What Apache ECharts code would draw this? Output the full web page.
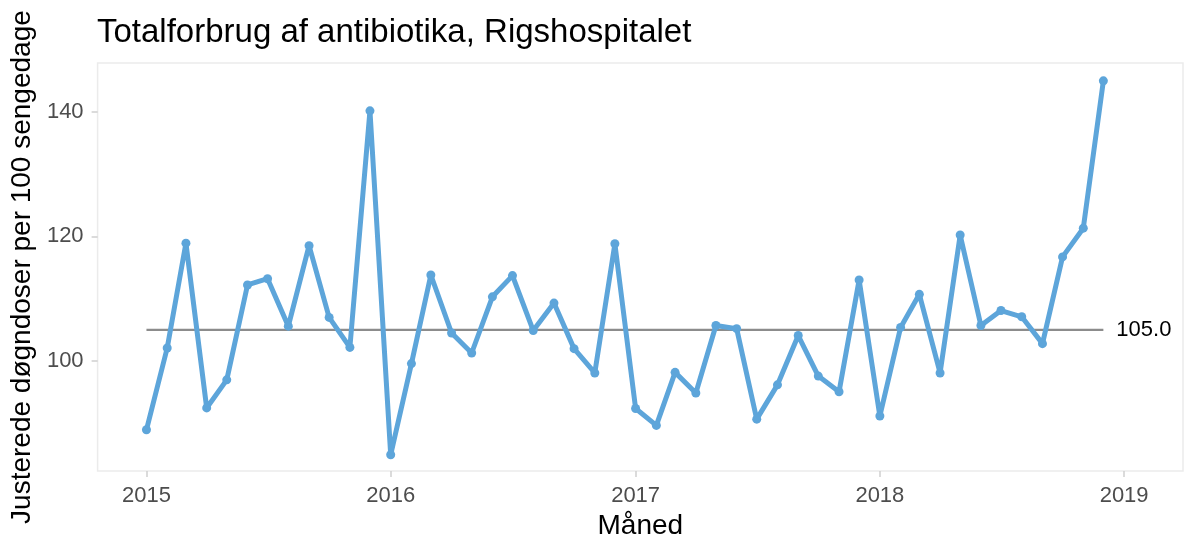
<!DOCTYPE html>
<html>
<head>
<meta charset="utf-8">
<script src="https://cdn.jsdelivr.net/npm/echarts@6/dist/echarts.min.js"></script>
<style>
  html, body { margin: 0; padding: 0; background: #fff; }
  #chart { width: 1186px; height: 545px; }
</style>
</head>
<body>
<div id="chart"></div>
<script>
const months = [
  '2015-01', '2015-02', '2015-03', '2015-04', '2015-05', '2015-06', '2015-07', '2015-08', '2015-09', '2015-10', '2015-11', '2015-12',
  '2016-01', '2016-02', '2016-03', '2016-04', '2016-05', '2016-06', '2016-07', '2016-08', '2016-09', '2016-10', '2016-11', '2016-12',
  '2017-01', '2017-02', '2017-03', '2017-04', '2017-05', '2017-06', '2017-07', '2017-08', '2017-09', '2017-10', '2017-11', '2017-12',
  '2018-01', '2018-02', '2018-03', '2018-04', '2018-05', '2018-06', '2018-07', '2018-08', '2018-09', '2018-10', '2018-11', '2018-12'
]
const values = [
  89.0, 102.1, 118.9, 92.5, 97.0, 112.2, 113.2, 105.6, 118.5, 107.0, 102.2, 140.1,
  85.0, 99.6, 113.8, 104.5, 101.3, 110.3, 113.7, 104.9, 109.3, 102.0, 98.1, 118.8,
  92.4, 89.7, 98.2, 94.9, 105.7, 105.2, 90.7, 96.2, 104.1, 97.6, 95.1, 113.0,
  91.2, 105.4, 110.7, 98.1, 120.2, 105.7, 108.1, 107.1, 102.8, 116.7, 121.3, 144.9
]
const centerLine = 105.0
const yTicks = [100, 120, 140]
const xTickYears = [2015, 2016, 2017, 2018, 2019]

const toTime = s => Date.UTC(+s.slice(0, 4), +s.slice(5, 7) - 1, 1)
const DAY = 86400000
const xTicks = xTickYears.map(y => Date.UTC(y, 0, 1))

const font = '"Liberation Sans", Arial, Helvetica, sans-serif'
const tickColor = '#cfcfcf'

const chart = echarts.init(document.getElementById('chart'))
chart.setOption({
  animation: false,
  textStyle: { fontFamily: font },
  title: {
    text: 'Totalforbrug af antibiotika, Rigshospitalet',
    left: 92,
    top: 11,
    textStyle: { fontFamily: font, fontSize: 33, fontWeight: 'normal', color: '#000' }
  },
  grid: { left: 96, right: 3, top: 63, bottom: 72, show: true, borderColor: '#ebebeb', borderWidth: 1.5, backgroundColor: '#fff' },
  xAxis: {
    type: 'value',
    min: Date.UTC(2015, 0, 1) - 73 * DAY,
    max: Date.UTC(2019, 0, 1) + 88 * DAY,
    name: 'Måned',
    nameLocation: 'middle',
    nameGap: 40,
    nameTextStyle: { fontFamily: font, fontSize: 28, color: '#000' },
    axisLine: { show: false },
    splitLine: { show: false },
    axisTick: { show: true, customValues: xTicks, length: 6, lineStyle: { color: tickColor, width: 1.5 } },
    axisLabel: {
      customValues: xTicks,
      fontSize: 22,
      color: '#4d4d4d',
      margin: 14,
      formatter: v => String(new Date(v).getUTCFullYear())
    }
  },
  yAxis: {
    type: 'value',
    min: 82.38,
    max: 147.76,
    name: 'Justerede døgndoser per 100 sengedage',
    nameLocation: 'middle',
    nameGap: 58,
    nameTextStyle: { fontFamily: font, fontSize: 28, color: '#000' },
    axisLine: { show: false },
    splitLine: { show: false },
    axisTick: { show: true, customValues: yTicks, length: 6, lineStyle: { color: tickColor, width: 1.5 } },
    axisLabel: { customValues: yTicks, fontSize: 22, color: '#4d4d4d', margin: 14 }
  },
  series: [
    {
      type: 'line',
      data: [[toTime(months[0]), centerLine], [toTime(months[months.length - 1]), centerLine]],
      symbol: 'none',
      lineStyle: { color: '#8c8c8c', width: 2.2 },
      z: 1,
      endLabel: {
        show: true,
        formatter: p => p.value[1].toFixed(1),
        fontFamily: font,
        fontSize: 22,
        color: '#000',
        distance: 13
      }
    },
    {
      type: 'line',
      data: months.map((m, i) => [toTime(m), values[i]]),
      symbol: 'circle',
      symbolSize: 9,
      lineStyle: { color: '#5da5da', width: 5 },
      itemStyle: { color: '#5da5da' },
      z: 2
    }
  ]
})
</script>
</body>
</html>
